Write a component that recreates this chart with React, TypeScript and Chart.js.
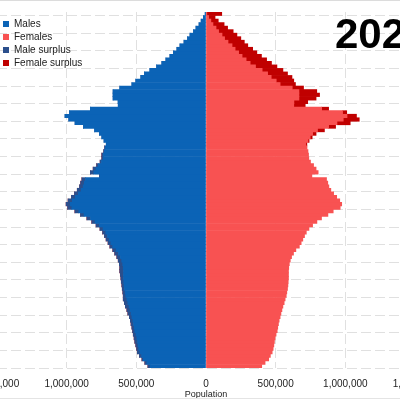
import React, { useEffect, useRef } from "react";
import { Chart, registerables } from "chart.js";

Chart.register(...registerables);

// Age categories 0..100 (100 = 100+)
const AGES = [
  "0","1","2","3","4","5","6","7","8","9",
  "10","11","12","13","14","15","16","17","18","19",
  "20","21","22","23","24","25","26","27","28","29",
  "30","31","32","33","34","35","36","37","38","39",
  "40","41","42","43","44","45","46","47","48","49",
  "50","51","52","53","54","55","56","57","58","59",
  "60","61","62","63","64","65","66","67","68","69",
  "70","71","72","73","74","75","76","77","78","79",
  "80","81","82","83","84","85","86","87","88","89",
  "90","91","92","93","94","95","96","97","98","99",
  "100",
];

// Population by single year of age, in thousands
const MALES_K = [
  417, 439, 460, 478, 493, 498, 504, 511, 516, 522,
  527, 532, 538, 543, 550, 561, 568, 579, 586, 594,
  594, 597, 601, 604, 608, 611, 615, 619, 619, 622,
  630, 640, 655, 669, 690, 703, 717, 729, 742, 761,
  789, 820, 855, 901, 941, 993, 1004, 990, 966, 944,
  924, 908, 900, 891, 765, 830, 810, 785, 760, 748,
  748, 734, 727, 716, 732, 748, 765, 800, 880, 940,
  985, 1012, 980, 830, 630, 631, 667, 667, 667, 619,
  532, 504, 468, 442, 403, 355, 317, 288, 259, 234,
  209, 187, 158, 133, 115, 90, 72, 50, 35, 19,
  6,
];

const FEMALES_K = [
  400, 424, 450, 462, 475, 482, 487, 491, 496, 503,
  511, 515, 520, 525, 532, 538, 545, 552, 561, 568,
  576, 580, 585, 588, 590, 592, 592, 592, 594, 598,
  605, 614, 628, 645, 670, 683, 695, 707, 720, 739,
  765, 796, 829, 875, 913, 963, 974, 960, 938, 916,
  896, 882, 874, 865, 760, 805, 790, 772, 750, 738,
  736, 732, 725, 724, 740, 762, 790, 850, 930, 1035,
  1100, 1080, 1010, 880, 712, 730, 790, 815, 795, 700,
  642, 630, 617, 585, 552, 509, 470, 435, 398, 365,
  335, 300, 275, 250, 222, 195, 155, 130, 88, 65,
  113,
];

const SERIES_NAMES = ["Males", "Females", "Male surplus", "Female surplus"];
const X_TICK_STEP = 500000;
const X_LIMIT = 1500000;
const YEAR_LABEL = "2020";
const AXIS_TITLE = "Population";

const COLORS = {
  males: "#0b63b6",
  females: "#f85252",
  maleSurplus: "#2b4f8c",
  femaleSurplus: "#c00000",
  grid: "#e0e0e0",
  text: "#222222",
};

const FONT = '"Liberation Sans", Arial, Helvetica, sans-serif';
const CANVAS_LEFT = -43; // page offset of the canvas
const CANVAS_W = 498;
const CANVAS_H = 400;

export default function App() {
  const ref = useRef<HTMLCanvasElement | null>(null);

  useEffect(() => {
    if (!ref.current) return;
    const males = MALES_K.map((v) => v * 1000);
    const females = FEMALES_K.map((v) => v * 1000);
    const common = males.map((m, i) => Math.min(m, females[i]));
    const maleBase = common.map((v) => -v);
    const maleSurplus = males.map((m, i) => -Math.max(m - females[i], 0));
    const femaleBase = common.slice();
    const femaleSurplus = females.map((f, i) => Math.max(f - males[i], 0));

    const overlay = {
      id: "overlay",
      afterLayout(chart: any) {
        const lg = chart.legend;
        if (lg) {
          const w = lg.width;
          const h = lg.height;
          lg.left = 43;
          lg.top = 16;
          lg.right = lg.left + w;
          lg.bottom = lg.top + h;
        }
      },
      afterDraw(chart: any) {
        const ctx = chart.ctx;
        ctx.save();
        ctx.font = `bold 42px ${FONT}`;
        ctx.fillStyle = "#000";
        ctx.textBaseline = "alphabetic";
        ctx.textAlign = "left";
        ctx.fillText(YEAR_LABEL, 335 - CANVAS_LEFT, 48);
        ctx.restore();
      },
    };

    const bar = { barPercentage: 1, categoryPercentage: 1, borderWidth: 0 };

    const chart = new Chart(ref.current, {
      type: "bar",
      data: {
        labels: AGES,
        datasets: [
          { label: SERIES_NAMES[0], data: maleBase, backgroundColor: COLORS.males, ...bar },
          { label: SERIES_NAMES[1], data: femaleBase, backgroundColor: COLORS.females, ...bar },
          { label: SERIES_NAMES[2], data: maleSurplus, backgroundColor: COLORS.maleSurplus, ...bar },
          { label: SERIES_NAMES[3], data: femaleSurplus, backgroundColor: COLORS.femaleSurplus, ...bar },
        ],
      },
      options: {
        indexAxis: "y",
        responsive: false,
        animation: false,
        devicePixelRatio: 1,
        layout: { padding: { left: 40, right: 40, top: 12, bottom: 0 } },
        plugins: {
          legend: {
            position: "chartArea",
            align: "start",
            labels: {
              boxWidth: 6,
              boxHeight: 6,
              padding: 3,
              color: COLORS.text,
              font: { size: 10, family: FONT },
            },
          },
          tooltip: { enabled: false },
          title: { display: false },
        },
        scales: {
          x: {
            stacked: true,
            min: -X_LIMIT,
            max: X_LIMIT,
            afterFit: (scale: any) => {
              scale.height = 32;
            },
            ticks: {
              stepSize: X_TICK_STEP,
              autoSkip: false,
              maxRotation: 0,
              padding: 10,
              color: COLORS.text,
              font: { size: 10, family: FONT },
              callback: (v: any) => Math.abs(Number(v)).toLocaleString("en-US"),
            },
            grid: { color: COLORS.grid, drawTicks: false, lineWidth: 1 },
            border: { display: false, dash: [10, 4] },
            title: {
              display: true,
              text: AXIS_TITLE,
              color: COLORS.text,
              font: { size: 9, family: FONT },
              padding: { top: 0, bottom: 0 },
            },
          },
          y: {
            stacked: true,
            reverse: true,
            ticks: { display: false, autoSkip: false },
            grid: {
              drawTicks: false,
              lineWidth: 1,
              color: (ctx: any) => (ctx.index % 5 === 0 ? COLORS.grid : "rgba(0,0,0,0)"),
            },
            border: { display: false, dash: [10, 4] },
          },
        },
      },
      plugins: [overlay],
    } as any);

    return () => chart.destroy();
  }, []);

  return (
    <div
      style={{
        position: "fixed",
        left: 0,
        top: 0,
        width: 400,
        height: 400,
        overflow: "hidden",
        background: "#fff",
      }}
    >
      <div style={{ position: "absolute", left: CANVAS_LEFT, top: 0 }}>
        <canvas
          ref={ref}
          width={CANVAS_W}
          height={CANVAS_H}
          style={{ display: "block", width: CANVAS_W, height: CANVAS_H }}
        />
      </div>
      <div style={{ position: "absolute", left: 0, top: 0, width: 400, height: 1, background: "#dcdcdc" }} />
      <div style={{ position: "absolute", left: 0, top: 398, width: 400, height: 1, background: "#e4e4e4" }} />
    </div>
  );
}
